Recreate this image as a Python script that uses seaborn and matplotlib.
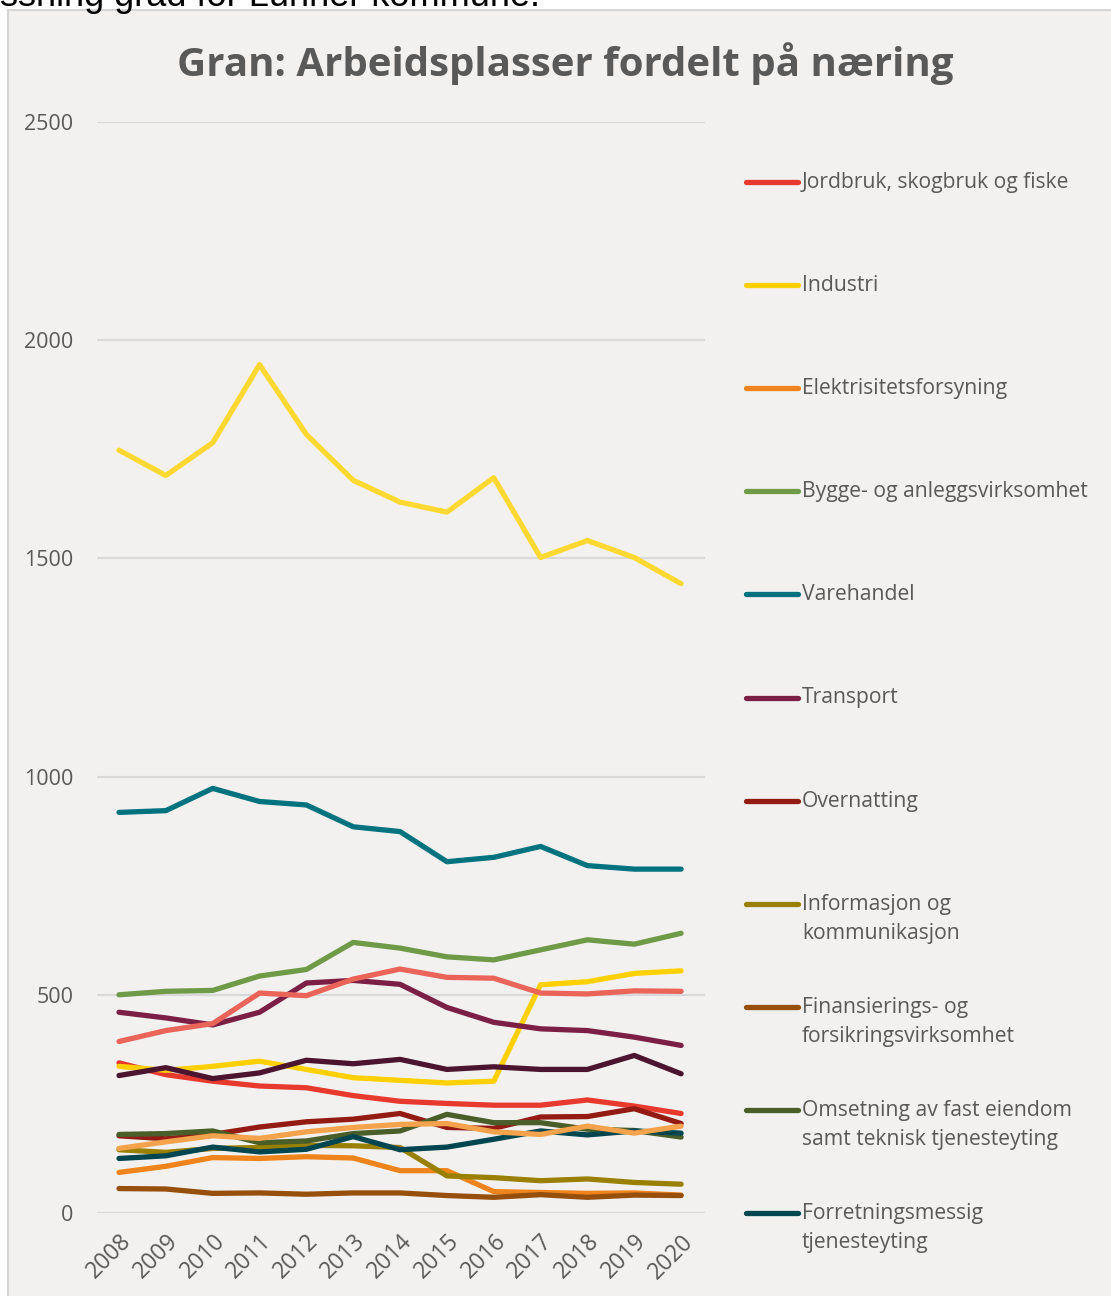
import matplotlib
matplotlib.use("Agg")
import matplotlib.pyplot as plt
import seaborn as sns
import pandas as pd
from matplotlib.patches import Rectangle
from matplotlib.lines import Line2D

years = ["2008", "2009", "2010", "2011", "2012", "2013", "2014",
         "2015", "2016", "2017", "2018", "2019", "2020"]

jordbruk = [344, 317, 302, 291, 287, 269, 256, 251, 247, 247, 259, 245, 228]
industri = [336, 327, 336, 348, 329, 310, 304, 298, 302, 523, 530, 549, 555]
elektrisitet = [93, 107, 127, 125, 129, 126, 97, 97, 49, 47, 45, 46, 41]
bygge = [500, 508, 510, 543, 558, 620, 607, 587, 580, 603, 626, 616, 641]
varehandel = [918, 922, 973, 943, 935, 885, 874, 805, 815, 840, 796, 788, 788]
transport = [460, 447, 431, 460, 527, 533, 524, 471, 437, 422, 418, 403, 384]
overnatting = [177, 170, 180, 197, 209, 215, 228, 196, 194, 220, 221, 239, 205]
informasjon = [145, 139, 148, 150, 155, 154, 150, 85, 81, 74, 78, 70, 66]
finansiering = [56, 55, 45, 46, 43, 46, 46, 40, 36, 42, 36, 41, 40]
omsetning = [180, 182, 188, 161, 165, 182, 188, 226, 207, 207, 192, 189, 174]
forretning = [125, 131, 151, 140, 146, 175, 145, 151, 169, 188, 179, 188, 183]
# series drawn in the chart but not shown in the (truncated) legend
offentlig = [315, 333, 308, 321, 350, 342, 352, 329, 335, 329, 329, 361, 319]
undervisning = [393, 418, 434, 504, 498, 536, 559, 540, 538, 504, 502, 509, 508]
helse = [1748, 1690, 1765, 1944, 1784, 1679, 1629, 1606, 1685, 1502, 1541, 1502, 1442]
personlig = [148, 163, 177, 171, 186, 196, 203, 205, 186, 180, 199, 183, 199]

series = [
    ("Jordbruk, skogbruk og fiske", jordbruk, "#E8392E", True),
    ("Industri", industri, "#FFD000", True),
    ("Elektrisitetsforsyning", elektrisitet, "#F0841C", True),
    ("Bygge- og anleggsvirksomhet", bygge, "#6F9A48", True),
    ("Varehandel", varehandel, "#00737E", True),
    ("Transport", transport, "#7B1F45", True),
    ("Overnatting", overnatting, "#941A14", True),
    ("Informasjon og\nkommunikasjon", informasjon, "#9A8000", True),
    ("Finansierings- og\nforsikringsvirksomhet", finansiering, "#974F0C", True),
    ("Omsetning av fast eiendom\nsamt teknisk tjenesteyting", omsetning, "#4A5E2A", True),
    ("Forretningsmessig\ntjenesteyting", forretning, "#004650", True),
    ("Offentlig administrasjon", offentlig, "#4B1530", False),
    ("Undervisning", undervisning, "#EA645A", False),
    ("Helse- og sosialtjenester", helse, "#FFD932", False),
    ("Personlig tjenesteyting", personlig, "#F4A24C", False),
]

rows = []
for name, vals, col, _ in series:
    for i, v in enumerate(vals):
        rows.append({"Næring": name, "År": i, "Antall": v})
df = pd.DataFrame(rows)
palette = {name: col for name, _, col, _ in series}

sns.set_theme(style="white")
plt.rcParams["font.family"] = ["Open Sans", "DejaVu Sans"]

BG = "#F2F1EF"
TXT = "#595959"

fig = plt.figure(figsize=(11.11, 12.96), dpi=100)
fig.patch.set_facecolor("white")
bg = Rectangle((8 / 1111, -0.01), 1.0, 1 - 10 / 1296 + 0.01,
               transform=fig.transFigure, facecolor=BG,
               edgecolor="#D4D4D4", linewidth=1.5, zorder=-10)
fig.patches.append(bg)

fig.text(0.0, 1 + 4 / 1296, "ssning grad for Lunner kommune.", ha="left", va="center",
         fontsize=26, color="black", family=["Liberation Sans", "DejaVu Sans"])

ax = fig.add_axes([97 / 1111, 1 - 1213 / 1296, 608 / 1111, (1213 - 122) / 1296])
ax.set_facecolor("none")
ax.set_zorder(5)

sns.lineplot(data=df, x="År", y="Antall", hue="Næring", palette=palette,
             hue_order=[s[0] for s in series], ax=ax, linewidth=3.8,
             legend=False, sort=False)
for ln in ax.get_lines():
    ln.set_solid_capstyle("round")
    ln.set_solid_joinstyle("round")

ax.set_xlim(-0.47, 12.51)
ax.set_ylim(0, 2500)
ax.set_yticks([0, 500, 1000, 1500, 2000, 2500])
ax.set_xticks(range(len(years)))
ax.set_xticklabels(years, rotation=45, ha="right", rotation_mode="anchor")
ax.tick_params(axis="y", length=0, labelsize=15.5, labelcolor=TXT, pad=17)
ax.tick_params(axis="x", length=0, labelsize=16.5, labelcolor=TXT, pad=12)
ax.yaxis.grid(True, color="#D9D9D9", linewidth=1.5)
ax.set_axisbelow(True)
for sp in ax.spines.values():
    sp.set_visible(False)
ax.set_xlabel("")
ax.set_ylabel("")

fig.text(565 / 1111, 1 - 64 / 1296, "Gran: Arbeidsplasser fordelt på næring",
         ha="center", va="center", fontsize=29, fontweight="bold", color=TXT)

# legend (only the first 11 entries are visible in the original)
y0 = 182
step = 103.1
k = 0
for name, vals, col, show in series:
    if not show:
        continue
    y = y0 + k * step
    fy = 1 - y / 1296
    fig.add_artist(Line2D([746 / 1111, 798 / 1111], [fy, fy], transform=fig.transFigure,
                          color=col, linewidth=3.8, solid_capstyle="round"))
    fig.text(802 / 1111, fy + 10 / 1296, name, ha="left", va="top", fontsize=15.2,
             color=TXT, linespacing=1.52)
    k += 1

fig.savefig("out.png", dpi=100, facecolor=fig.get_facecolor())
